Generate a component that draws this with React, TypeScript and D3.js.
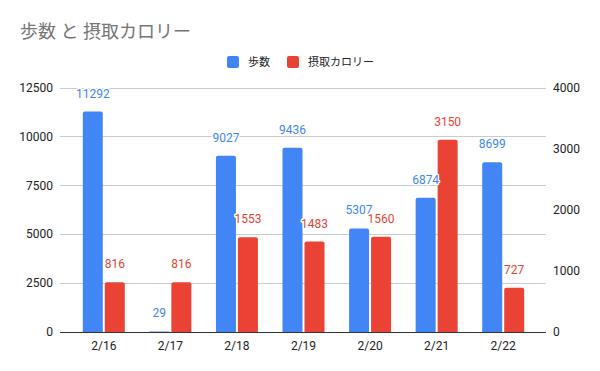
import * as d3 from "d3";

const dates = ["2/16", "2/17", "2/18", "2/19", "2/20", "2/21", "2/22"];
const steps = [11292, 29, 9027, 9436, 5307, 6874, 8699];
const calories = [816, 816, 1553, 1483, 1560, 3150, 727];
const leftTicks = [0, 2500, 5000, 7500, 10000, 12500];
const rightTicks = [0, 1000, 2000, 3000, 4000];

const W = 600;
const H = 371;
const BLUE = "#4285f4";
const RED = "#ea4335";
const FONT = "Roboto, 'Noto Sans CJK JP', sans-serif";

// path for a bar with slightly rounded top corners
const barPath = (x: number, y: number, w: number, h: number, r = 2) => {
  const rr = Math.min(r, h / 2, w / 2);
  return `M${x},${y + h}V${y + rr}Q${x},${y} ${x + rr},${y}H${x + w - rr}Q${x + w},${y} ${x + w},${y + rr}V${y + h}Z`;
};

export default function App() {
  const plot = { left: 60, right: 546, top: 88, bottom: 332 };

  const x = d3.scaleBand<string>().domain(dates).range([70.5, 536.5]);
  const yL = d3.scaleLinear().domain([0, 12500]).range([plot.bottom, plot.top]);
  const yR = d3.scaleLinear().domain([0, 4000]).range([plot.bottom, plot.top]);

  const barW = 20;
  const gap = 2;

  const series = [
    { name: "歩数", values: steps, y: yL, color: BLUE, offset: -gap / 2 - barW },
    { name: "摂取カロリー", values: calories, y: yR, color: RED, offset: gap / 2 },
  ];

  return (
    <svg width={W} height={H} style={{ position: "absolute", left: 0, top: 0 }} fontFamily={FONT}>
      <rect width={W} height={H} fill="#fff" />
      <text x={20} y={38} fontSize={18} fill="#757575">
        歩数 と 摂取カロリー
      </text>

      {/* legend */}
      <g fontSize={11} fill="#222">
        <rect x={227} y={56} width={12} height={12} rx={2} fill={BLUE} />
        <text x={248} y={66}>歩数</text>
        <rect x={287} y={56} width={12} height={12} rx={2} fill={RED} />
        <text x={308} y={66}>摂取カロリー</text>
      </g>

      {/* gridlines */}
      {leftTicks.map((t) => (
        <line
          key={t}
          x1={plot.left}
          x2={plot.right}
          y1={yL(t)}
          y2={yL(t)}
          stroke={t === 0 ? "#333" : "#ccc"}
          strokeWidth={1}
          shapeRendering="crispEdges"
        />
      ))}

      {/* left axis */}
      <g fontSize={12} fill="#222" textAnchor="end">
        {leftTicks.map((t) => (
          <text key={t} x={53} y={yL(t) + 4}>
            {t}
          </text>
        ))}
      </g>

      {/* right axis */}
      <g fontSize={12} fill="#222" textAnchor="start">
        {rightTicks.map((t) => (
          <text key={t} x={553} y={yR(t) + 4}>
            {t}
          </text>
        ))}
      </g>

      {/* x axis labels */}
      <g fontSize={12} fill="#222" textAnchor="middle">
        {dates.map((d) => (
          <text key={d} x={x(d)! + x.bandwidth() / 2} y={350}>
            {d}
          </text>
        ))}
      </g>

      {/* bars */}
      {series.map((s) => (
        <g key={s.name}>
          {s.values.map((v, i) => {
            const cx = x(dates[i])! + x.bandwidth() / 2 + s.offset;
            const top = s.y(v);
            return (
              <path key={i} d={barPath(cx, top, barW, plot.bottom - top)} fill={s.color} />
            );
          })}
        </g>
      ))}

      {/* value labels */}
      {series.map((s) => (
        <g key={s.name + "-lbl"} fontSize={12} textAnchor="middle" fill={s.color}>
          {s.values.map((v, i) => {
            const cx = x(dates[i])! + x.bandwidth() / 2 + s.offset + barW / 2;
            return (
              <text
                key={i}
                x={cx}
                y={s.y(v) - 14}
                stroke="#fff"
                strokeWidth={3}
                strokeLinejoin="round"
                paintOrder="stroke"
              >
                {v}
              </text>
            );
          })}
        </g>
      ))}
    </svg>
  );
}
